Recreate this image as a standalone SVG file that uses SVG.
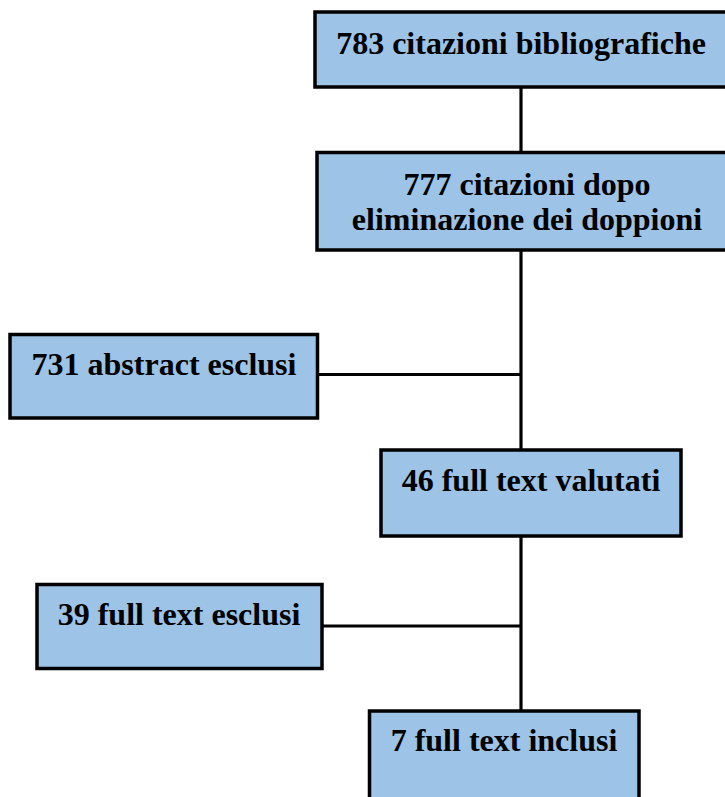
<svg xmlns="http://www.w3.org/2000/svg" width="725" height="797" viewBox="0 0 725 797">
<style>
.box{fill:#9DC3E6;stroke:#000;stroke-width:3.5}
.lbl{font-family:"Liberation Serif","Times New Roman",serif;font-weight:bold;font-size:32px;fill:#000;text-anchor:middle}
.conn{stroke:#000;stroke-width:3.2;fill:none}
</style>
<rect width="725" height="797" fill="#fff"/>
<g id="connectors">
<line class="conn" x1="521" y1="87" x2="521" y2="152"/>
<line class="conn" x1="521" y1="250" x2="521" y2="450"/>
<line class="conn" x1="317" y1="374.5" x2="521" y2="374.5"/>
<line class="conn" x1="521" y1="536" x2="521" y2="711"/>
<line class="conn" x1="321" y1="626" x2="521" y2="626"/>
</g>
<g id="n1">
<rect class="box" x="315" y="12" width="412" height="75"/>
<text class="lbl" x="521" y="53.5">783 citazioni bibliografiche</text>
</g>
<g id="n2">
<rect class="box" x="317" y="152.5" width="420" height="97.5"/>
<text class="lbl" x="527" y="194.5">777 citazioni dopo</text>
<text class="lbl" x="527" y="230">eliminazione dei doppioni</text>
</g>
<g id="n3">
<rect class="box" x="10" y="334.5" width="307.5" height="83.5"/>
<text class="lbl" x="164" y="375">731 abstract esclusi</text>
</g>
<g id="n4">
<rect class="box" x="381" y="450" width="300" height="86"/>
<text class="lbl" x="531" y="491">46 full text valutati</text>
</g>
<g id="n5">
<rect class="box" x="37" y="584.5" width="285" height="84"/>
<text class="lbl" x="179" y="625">39 full text esclusi</text>
</g>
<g id="n6">
<rect class="box" x="369.5" y="711" width="269.5" height="100"/>
<text class="lbl" x="504" y="751">7 full text inclusi</text>
</g>
</svg>
